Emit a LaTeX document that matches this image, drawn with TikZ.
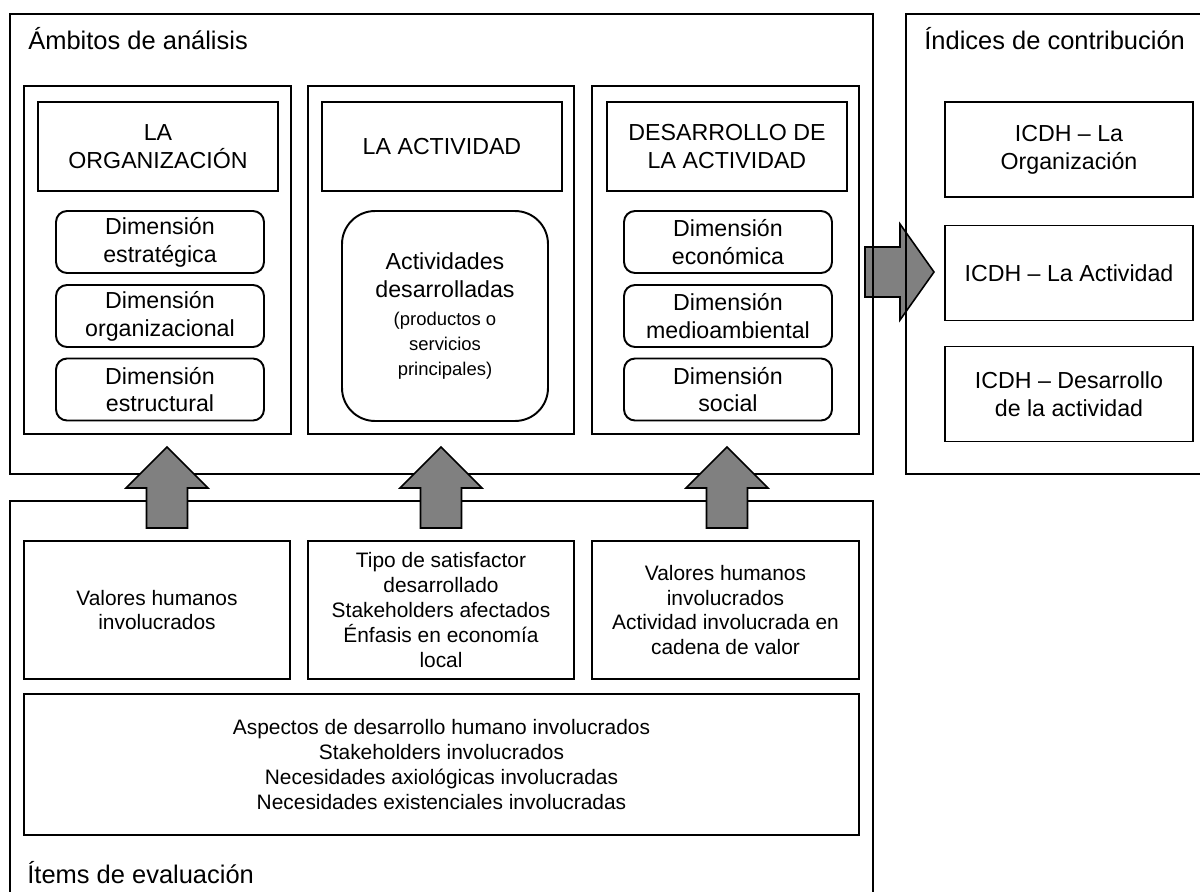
\documentclass[tikz,border=0pt]{standalone}
\usepackage{fontspec}
\setmainfont{Liberation Sans}
\begin{document}
\begin{tikzpicture}[x=0.02cm, y=-0.02cm]
      \tikzstyle{STY0} = [draw, rectangle, line width=1.1pt, inner sep=0pt]
      \tikzstyle{STY1} = [STY0, align=center, font=\fontsize{13.2}{15.8}\selectfont]
      \tikzstyle{STY2} = [STY1, rounded corners=0.22cm, minimum width=4.16cm, minimum height=1.24cm]
      \tikzstyle{STY3} = [STY0, align=center, font=\fontsize{11.9}{14.2}\selectfont, minimum height=2.76cm]
      \tikzstyle{STY4} = [anchor=base west, inner sep=0pt, font=\fontsize{14.5}{17}\selectfont]
      \tikzstyle{STY5} = [draw, line width=0.9pt, fill={rgb,255:red,128;green,128;blue,128}]

      \useasboundingbox (0,0) rectangle (1200,892);
      \clip (0,0) rectangle (1200,892);

      %%%%% RIGHT ARROW (below the frames)
      \coordinate (r0) at (934,272);
      \draw[STY5] (r0) -- ++(-34,-48) -- ++(0,23) -- ++(-35,0) -- ++(0,50) -- ++(35,0) -- ++(0,23) -- cycle;

      %%%%% FRAMES
      \node[STY0, minimum width=17.26cm, minimum height=9.2cm] (amb) at (441.5,244) {};
      \node[STY0, minimum width=6.18cm, minimum height=9.2cm] (ind) at (1060.5,244) {};
      \node[STY0, minimum width=17.26cm, minimum height=8.08cm] (ite) at (441.5,703) {};

      \node[STY4] (tamb) at (28,50) {Ámbitos de análisis};
      \node[STY4] (tind) at (924,50) {Índices de contribución};
      \node[STY4] (tite) at (27,883) {Ítems de evaluación};

      %%%%% COLUMNS
      \node[STY0, minimum width=5.34cm, minimum height=6.96cm] (c1) at (157.5,260) {};
      \node[STY0, minimum width=5.32cm, minimum height=6.96cm] (c2) at (441,260) {};
      \node[STY0, minimum width=5.34cm, minimum height=6.96cm] (c3) at (725.5,260) {};

      \node[STY1, minimum width=4.8cm, minimum height=1.78cm] (h1) at (158,146.5) {LA\\ORGANIZACIÓN};
      \node[STY1, minimum width=4.8cm, minimum height=1.78cm] (h2) at (442,146.5) {LA ACTIVIDAD};
      \node[STY1, minimum width=4.8cm, minimum height=1.78cm] (h3) at (727,146.5) {DESARROLLO DE\\LA ACTIVIDAD};

      \node[STY2] (d1) at (160,242) {Dimensión\\estratégica};
      \node[STY2] (d2) at (160,316) {Dimensión\\organizacional};
      \node[STY2] (d3) at (160,389.5) {Dimensión\\estructural};

      \node[STY1, rounded corners=0.66cm, minimum width=4.12cm, minimum height=4.2cm] (a1) at (445,316)
            {Actividades\\desarrolladas\\[0pt]{\fontsize{10.5}{11.9}\selectfont (productos o}\\[-1.6pt]{\fontsize{10.5}{11.9}\selectfont servicios}\\[-1.6pt]{\fontsize{10.5}{11.9}\selectfont principales)}};

      \node[STY2] (d4) at (728,242) {Dimensión\\económica};
      \node[STY2] (d5) at (728,316) {Dimensión\\medioambiental};
      \node[STY2] (d6) at (728,389.5) {Dimensión\\social};

      %%%%% INDICES
      \node[STY1, minimum width=4.96cm, minimum height=1.9cm] (i1) at (1069,149.5) {ICDH – La\\Organización};
      \node[STY1, minimum width=4.96cm, minimum height=1.9cm] (i2) at (1069,273) {ICDH – La Actividad};
      \node[STY1, minimum width=4.96cm, minimum height=1.9cm] (i3) at (1069,394) {ICDH – Desarrollo\\de la actividad};

      %%%%% ITEMS
      \node[STY3, minimum width=5.32cm] (b1) at (157,610) {Valores humanos\\involucrados};
      \node[STY3, minimum width=5.32cm] (b2) at (441,610) {Tipo de satisfactor\\desarrollado\\Stakeholders afectados\\Énfasis en economía\\local};
      \node[STY3, minimum width=5.34cm] (b3) at (725.5,610) {Valores humanos\\involucrados\\Actividad involucrada en\\cadena de valor};
      \node[STY3, minimum width=16.7cm, minimum height=2.82cm] (b4) at (441.5,764.5)
            {Aspectos de desarrollo humano involucrados\\Stakeholders involucrados\\Necesidades axiológicas involucradas\\Necesidades existenciales involucradas};

      %%%%% UP ARROWS
      \coordinate (u1) at (167,447);
      \coordinate (u2) at (441,447);
      \coordinate (u3) at (727,447);
      \draw[STY5] (u1) -- ++(41,41) -- ++(-20.5,0) -- ++(0,40) -- ++(-41,0) -- ++(0,-40) -- ++(-20.5,0) -- cycle;
      \draw[STY5] (u2) -- ++(41,41) -- ++(-20.5,0) -- ++(0,40) -- ++(-41,0) -- ++(0,-40) -- ++(-20.5,0) -- cycle;
      \draw[STY5] (u3) -- ++(41,41) -- ++(-20.5,0) -- ++(0,40) -- ++(-41,0) -- ++(0,-40) -- ++(-20.5,0) -- cycle;
\end{tikzpicture}
\end{document}
